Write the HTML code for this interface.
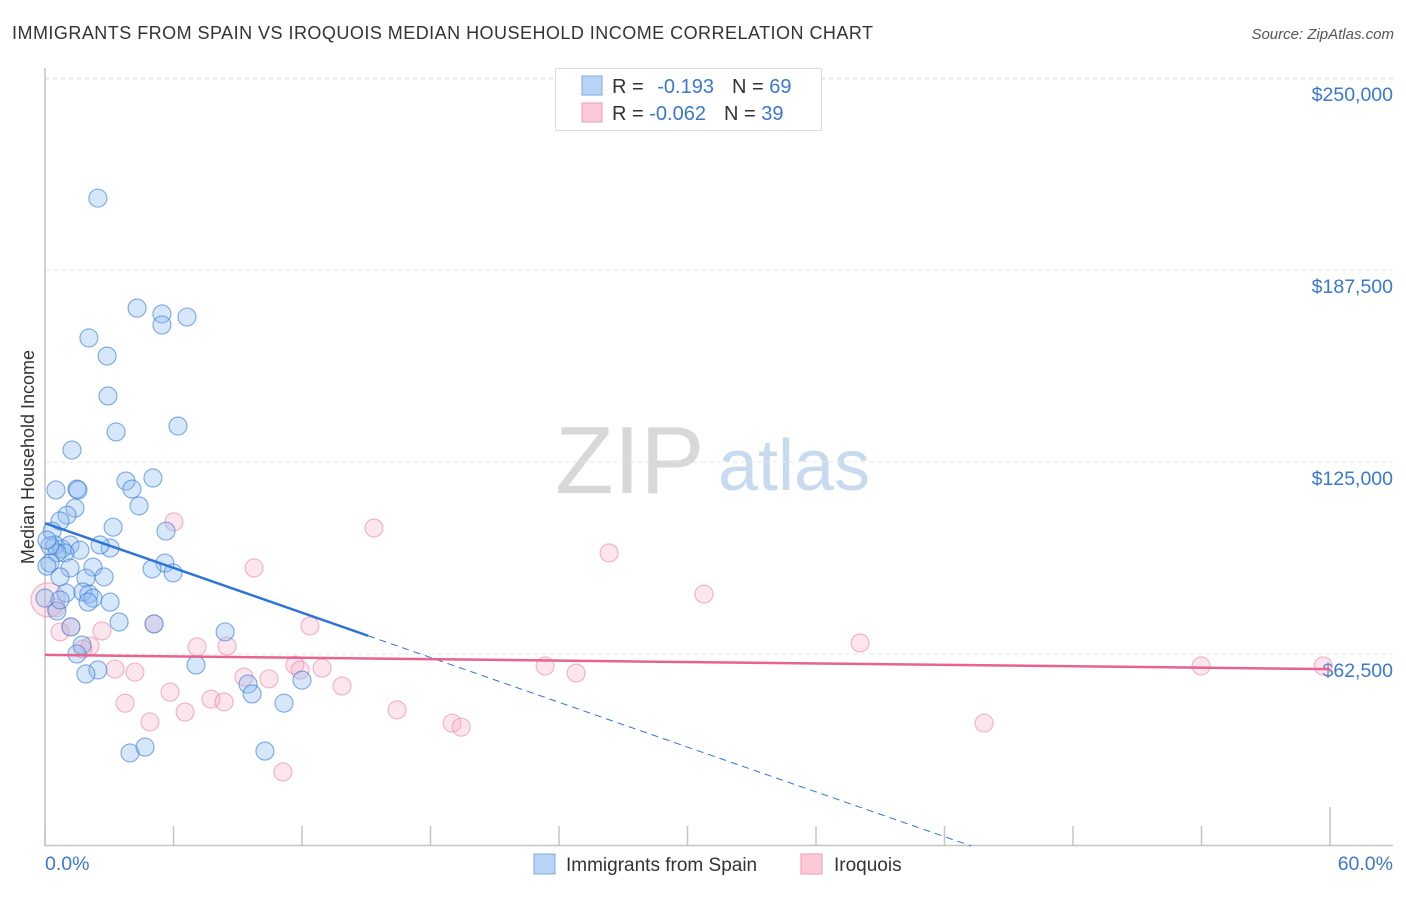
<!DOCTYPE html>
<html><head><meta charset="utf-8"><style>
body{margin:0;background:#fff;font-family:"Liberation Sans",sans-serif}
svg text{font-family:"Liberation Sans",sans-serif}
</style></head><body>
<svg id="chart" width="1406" height="892" viewBox="0 0 1406 892" xmlns="http://www.w3.org/2000/svg">
<text x="12" y="39" font-size="18" fill="#333" textLength="861">IMMIGRANTS FROM SPAIN VS IROQUOIS MEDIAN HOUSEHOLD INCOME CORRELATION CHART</text>
<text x="1394" y="39" font-size="15" fill="#555" font-style="italic" text-anchor="end">Source: ZipAtlas.com</text>
<g>
<text x="555" y="493" font-size="96" fill="#d8d8d8" font-family="Liberation Serif, serif">ZIP</text>
<text x="718" y="490" font-size="72" fill="#c8daf0">atlas</text>
</g>
<g id="grid"></g>
<g id="axes"></g>
<g id="pts"></g>
<g id="trend"></g>
<text transform="translate(34,457) rotate(-90)" text-anchor="middle" font-size="18" fill="#333">Median Household Income</text>
<g>
<rect x="555.5" y="68.5" width="266" height="62" fill="#fff" stroke="#ddd"/>
<rect x="582" y="76" width="20" height="19" fill="#b9d3f5" stroke="#7aaae6"/>
<rect x="582" y="103" width="20" height="19" fill="#fcc9d8" stroke="#ef9ab6"/>
<text x="612" y="93" font-size="20" fill="#333">R = <tspan fill="#3a78d0" dx="8">-0.193</tspan><tspan dx="18" fill="#333">N = </tspan><tspan fill="#3a78d0">69</tspan></text>
<text x="612" y="120" font-size="20" fill="#333">R = <tspan fill="#3a78d0">-0.062</tspan><tspan dx="18" fill="#333">N = </tspan><tspan fill="#3a78d0">39</tspan></text>
</g>
<g>
<rect x="534" y="854" width="21" height="20" fill="#b9d3f5" stroke="#7aaae6"/>
<text x="566" y="871" font-size="19" fill="#333">Immigrants from Spain</text>
<rect x="801" y="854" width="21" height="20" fill="#fcc9d8" stroke="#ef9ab6"/>
<text x="834" y="871" font-size="19" fill="#333">Iroquois</text>
</g>
</svg>
<script>
const spainX=[2.47,4.30,5.46,6.63,5.46,2.05,2.90,2.94,3.32,6.21,1.26,3.78,5.04,0.51,1.49,1.54,4.06,4.39,1.40,1.03,0.70,3.18,5.65,0.33,0.47,0.79,1.17,1.63,0.93,0.56,0.23,0.23,0.09,1.17,2.24,5.60,5.00,5.98,0.70,1.91,2.76,1.77,2.05,2.24,0.98,3.04,0.56,2.01,3.46,5.09,1.21,8.41,1.73,1.49,2.47,1.91,7.05,9.48,9.67,12.00,11.16,10.27,3.97,4.67,0.0,3.04,0.70,0.09,2.57];
const spainY=[210.9,175.1,173.2,172.2,169.6,165.4,159.5,146.5,134.8,136.7,128.9,118.8,119.8,115.9,116.2,115.9,116.2,110.7,110.0,107.7,105.8,103.8,102.5,102.5,98.0,96.7,98.0,96.3,95.4,95.4,97.7,92.1,91.1,90.5,90.8,92.1,90.2,88.9,87.6,87.2,87.6,82.7,82.0,80.7,82.4,79.4,76.5,79.4,72.9,72.3,71.3,69.7,65.4,62.5,57.3,56.0,58.9,52.7,49.5,54.0,46.5,30.9,30.3,32.2,80.7,97.0,80.1,99.6,98.0];
const iroqX=[6.02,15.36,26.34,9.76,30.77,0.14,0.51,5.09,12.37,1.21,0.70,2.66,38.06,7.10,8.50,2.10,1.77,3.27,4.20,23.35,24.80,11.67,12.94,11.91,53.98,59.68,9.29,10.46,5.84,13.87,7.75,8.36,3.74,16.44,6.54,4.90,19.01,19.43,43.85,11.11];
const iroqY=[105.5,103.5,95.4,90.5,82.0,80.1,77.5,72.3,71.6,71.3,69.7,70.0,66.1,64.8,65.1,65.1,64.1,57.6,56.6,58.6,56.3,58.9,57.9,57.3,58.6,58.6,55.0,54.4,50.1,52.1,47.8,46.9,46.5,44.3,43.6,40.4,40.0,38.7,40.0,24.1];
const yTicks=[62.5,125,187.5,250];
const yTickLabels=["$62,500","$125,000","$187,500","$250,000"];
const xTickCount=[0,6,12,18,24,30,36,42,48,54,60];
const spainTrend=[105.1,-2.43];
const iroqTrend=[62.2,-0.077];
const NS="http://www.w3.org/2000/svg";
const X0=45,X1=1330,Y0=846,YPX=192/62.5;
function sx(v){return X0+(v/60)*(X1-X0);}
function sy(v){return Y0-v*YPX;}
function mk(tag,attrs,parent){const e=document.createElementNS(NS,tag);for(const k in attrs)e.setAttribute(k,attrs[k]);parent.appendChild(e);return e;}
const gridG=document.getElementById('grid'),axesG=document.getElementById('axes'),ptsG=document.getElementById('pts'),trendG=document.getElementById('trend');
yTicks.forEach((t,i)=>{
 const l=mk('line',{x1:45,x2:1393,y1:sy(t),y2:sy(t),stroke:'#e6e6e6','stroke-dasharray':'4,4'},gridG);
 
 
 const tx=mk('text',{x:1393,y:sy(t)+23,'text-anchor':'end','font-size':19.5,fill:'#3a78d0'},axesG);
 tx.textContent=yTickLabels[i];
 
 
});
const topGrid=mk('line',{x1:45,x2:1393,y1:79,y2:79,stroke:'#e6e6e6','stroke-dasharray':'4,4'},gridG);


const ya=mk('line',{x1:45,x2:45,y1:68,y2:846,stroke:'#c4c4c4','stroke-width':1.5},axesG);


const xa=mk('line',{x1:45,x2:1393,y1:845.5,y2:845.5,stroke:'#c4c4c4','stroke-width':1.5},axesG);


xTickCount.forEach((t,i)=>{
 const tk=mk('line',{x1:sx(t),x2:sx(t),y1:(i==xTickCount.length-1?807:826),y2:846,stroke:'#c4c4c4','stroke-width':1.5},axesG);
 
 
});
const xl0=mk('text',{x:45,y:870,'font-size':19.5,fill:'#3a78d0'},axesG);xl0.textContent=xTickCount[0].toFixed(1)+'%';


const xl1=mk('text',{x:1393,y:870,'font-size':19.5,fill:'#3a78d0','text-anchor':'end'},axesG);xl1.textContent=xTickCount[xTickCount.length-1].toFixed(1)+'%';


iroqX.forEach((x,i)=>{
 const c=mk('circle',{cx:sx(x),cy:sy(iroqY[i]),r:(i==5?17:9),fill:'rgba(245,170,195,0.3)',stroke:'rgba(232,130,165,0.6)','stroke-width':1.1},ptsG);
 
 
});
spainX.forEach((x,i)=>{
 const c=mk('circle',{cx:sx(x),cy:sy(spainY[i]),r:9,fill:'rgba(140,185,240,0.35)',stroke:'rgba(60,125,215,0.65)','stroke-width':1.1},ptsG);
 
 
});
const bEnd=15.09;
const b1=mk('line',{x1:sx(0),y1:sy(spainTrend[0]),x2:sx(bEnd),y2:sy(spainTrend[0]+spainTrend[1]*bEnd),stroke:'#2e74d8','stroke-width':2.5},trendG);


const bz=-spainTrend[0]/spainTrend[1];
const b2=mk('line',{x1:sx(bEnd),y1:sy(spainTrend[0]+spainTrend[1]*bEnd),x2:sx(bz),y2:sy(0),stroke:'#2e74d8','stroke-width':1,'stroke-dasharray':'7,5'},trendG);


const p1=mk('line',{x1:sx(0),y1:sy(iroqTrend[0]),x2:sx(60),y2:sy(iroqTrend[0]+iroqTrend[1]*60),stroke:'#e8638f','stroke-width':2.5},trendG);


</script>
</body></html>
